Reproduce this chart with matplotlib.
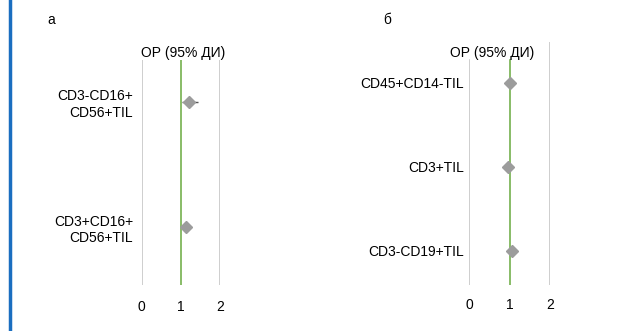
import matplotlib.pyplot as plt
from matplotlib.lines import Line2D

plt.rcParams['font.family'] = ['Liberation Sans', 'DejaVu Sans']

# panel а
labels_a = ["CD3-CD16+\nCD56+TIL", "CD3+CD16+\nCD56+TIL"]
hr_a = [1.22, 1.14]
lo_a = [1.04, 1.10]
hi_a = [1.43, 1.18]

# panel б
labels_b = ["CD45+CD14-TIL", "CD3+TIL", "CD3-CD19+TIL"]
hr_b = [1.02, 0.95, 1.07]
lo_b = [0.98, 0.91, 1.03]
hi_b = [1.06, 0.99, 1.11]

ticks = [0, 1, 2]
W, H = 630, 331

fig = plt.figure(figsize=(6.3, 3.31), dpi=100)

# blue bar on the left edge
fig.add_artist(Line2D([9.5 / W, 9.5 / W], [0, 1], color="#1a6ec0", lw=2.5))


def forest(ax, labels, hr, lo, hi, pad_lbl, pad_tick, top_frac_01):
    n = len(labels)
    pos = list(range(n))
    ax.set_xlim(0, 2)
    for t in ticks:
        if t == 1:
            ax.axvline(t, ymax=top_frac_01, color="#74b04e", lw=1.2, zorder=2)
        elif t == 0:
            ax.axvline(t, ymax=top_frac_01, color="#c6c6c6", lw=1.2, zorder=1)
        else:
            ax.axvline(t, color="#c6c6c6", lw=1.2, zorder=1)
    xerr = [[h - l for h, l in zip(hr, lo)], [u - h for h, u in zip(hr, hi)]]
    ax.errorbar(hr, pos, xerr=xerr, fmt="none", ecolor="#555555", elinewidth=1.0, zorder=3)
    ax.plot(hr, pos, "D", color="#9c9c9c", markersize=6.5, zorder=4, clip_on=False)
    ax.set_yticks(pos)
    ax.set_yticklabels(labels, fontsize=10)
    ax.set_xticks(ticks)
    ax.set_xticklabels([str(t) for t in ticks], fontsize=10)
    ax.tick_params(axis="y", length=0, pad=pad_lbl)
    ax.tick_params(axis="x", length=0, pad=pad_tick)
    for s in ax.spines.values():
        s.set_visible(False)


# left panel: axes spans px x 141.7..220, y 60..285
ax1 = fig.add_axes([141.7 / W, (H - 285) / H, (220 - 141.7) / W, 225 / H])
ax1.set_ylim(1.464, -0.336)
forest(ax1, labels_a, hr_a, lo_a, hi_a, 6.3, 11, 1.0)

# right panel: axes spans px x 469.3..550, y 42..285
ax2 = fig.add_axes([469.3 / W, (H - 285) / H, (550 - 469.3) / W, 243 / H])
ax2.set_ylim(2.405, -0.488)
forest(ax2, labels_b, hr_b, lo_b, hi_b, 3.8, 9.5, 1 - 18 / 243)

fig.text(183 / W, 1 - 53 / H, "ОР (95% ДИ)", ha="center", va="center", fontsize=10)
fig.text(491.7 / W, 1 - 53 / H, "ОР (95% ДИ)", ha="center", va="center", fontsize=10)
fig.text(51 / W, 1 - 20 / H, "а", ha="center", va="center", fontsize=10)
fig.text(386.7 / W, 1 - 20 / H, "б", ha="center", va="center", fontsize=10)

fig.savefig("out.png", dpi=100)
